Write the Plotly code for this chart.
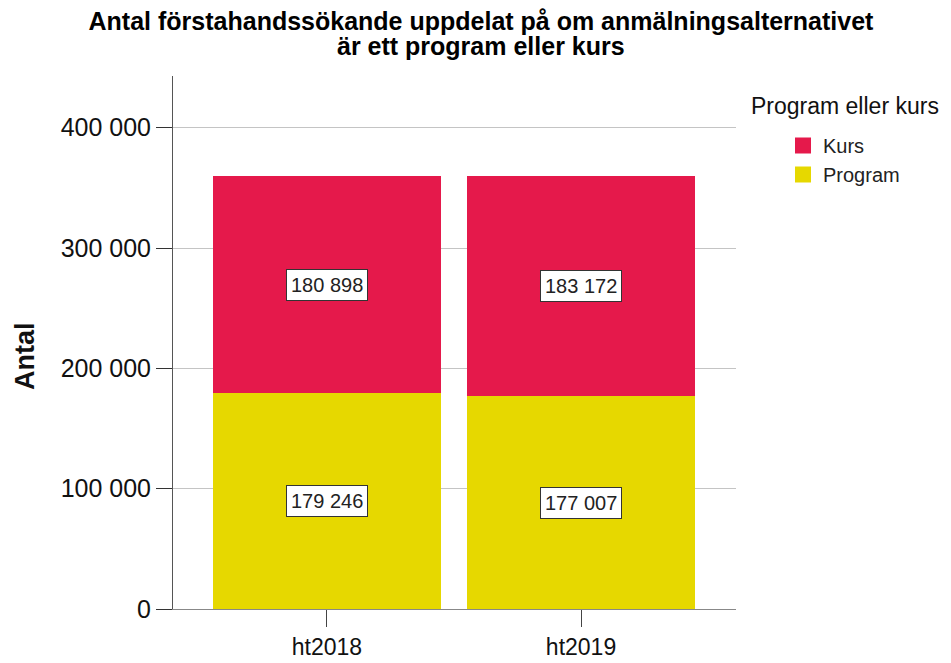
import plotly.graph_objects as go

categories = ["ht2018", "ht2019"]
program_values = [179246, 177007]
kurs_values = [180898, 183172]
series_names = ["Program", "Kurs"]
tick_values = [0, 100000, 200000, 300000, 400000]
tick_labels = ["0", "100 000", "200 000", "300 000", "400 000"]
title_lines = ["Antal förstahandssökande uppdelat på om anmälningsalternativet",
               "är ett program eller kurs"]
legend_title = "Program eller kurs"
y_title = "Antal"

RED = "#E5194B"
YELLOW = "#E6D800"
FONT = "Liberation Sans, Arial, sans-serif"

W, H = 951, 663
ml, mt = 165, 68
pw, ph = 563, 533
mr = W - ml - pw
mb = H - mt - ph


def px(X):
    return (X - ml) / pw


def py(Y):
    return (mt + ph - Y) / ph


fig = go.Figure()
fig.add_trace(go.Bar(x=categories, y=program_values, name=series_names[0],
                     marker=dict(color=YELLOW, line=dict(width=0)), showlegend=False))
fig.add_trace(go.Bar(x=categories, y=kurs_values, name=series_names[1],
                     marker=dict(color=RED, line=dict(width=0)), showlegend=False))
# legend entries with larger square swatches
for name, col in ((series_names[1], RED), (series_names[0], YELLOW)):
    fig.add_trace(go.Scatter(x=[None], y=[None], mode="markers", name=name,
                             marker=dict(symbol="square", size=16, color=col)))


def fmt(v):
    return f"{v:,}".replace(",", " ")


annotations = []
for c, p, k in zip(categories, program_values, kurs_values):
    for val, mid in ((p, p / 2), (k, p + k / 2)):
        annotations.append(dict(
            x=c, y=mid, xref="x", yref="y", text=fmt(val), showarrow=False,
            font=dict(family=FONT, size=20, color="#222"),
            bgcolor="white", bordercolor="#333", borderwidth=1, borderpad=4,
        ))

annotations.append(dict(
    x=px(741), y=py(98), xref="paper", yref="paper", text=legend_title,
    showarrow=False, xanchor="left", yanchor="middle",
    font=dict(family=FONT, size=23, color="#111"),
))
annotations.append(dict(
    x=px(473), y=py(38), xref="paper", yref="paper", text=f"<b>{title_lines[1]}</b>",
    showarrow=False, xanchor="center", yanchor="middle",
    font=dict(family=FONT, size=25, color="#000"),
))
annotations.append(dict(
    x=px(17), y=py(348), xref="paper", yref="paper", text=f"<b>{y_title}</b>",
    showarrow=False, xanchor="center", yanchor="middle", textangle=-90,
    font=dict(family=FONT, size=27, color="#111"),
))

fig.update_layout(
    width=W, height=H,
    margin=dict(l=ml, r=mr, t=mt, b=mb, autoexpand=False),
    barmode="stack", bargap=0.1,
    plot_bgcolor="white", paper_bgcolor="white",
    title=dict(
        text=f"<b>{title_lines[0]}</b>",
        xref="container", yref="container",
        x=473 / W, xanchor="center", y=1 - 13 / H, yanchor="middle",
        font=dict(family=FONT, size=25, color="#000"),
    ),
    annotations=annotations,
    legend=dict(
        x=px(775), y=py(118), xanchor="left", yanchor="top",
        traceorder="normal",
        font=dict(family=FONT, size=20, color="#222"),
        itemwidth=30, tracegroupgap=0, bgcolor="rgba(0,0,0,0)",
    ),
    xaxis=dict(
        range=[-0.606, 1.61], showline=True, linecolor="#888", linewidth=1,
        ticks="outside", ticklen=17, tickcolor="#444",
        tickfont=dict(family=FONT, size=23, color="#111"),
        showgrid=False, fixedrange=True,
    ),
    yaxis=dict(
        range=[0, 443000], tickvals=tick_values, ticktext=tick_labels,
        showline=True, linecolor="#555", linewidth=1,
        ticks="outside", ticklen=16, tickcolor="#333",
        showgrid=True, gridcolor="#C4C4C4", gridwidth=1, zeroline=False,
        tickfont=dict(family=FONT, size=25, color="#111"),
    ),
)

fig.write_html("out.html")
